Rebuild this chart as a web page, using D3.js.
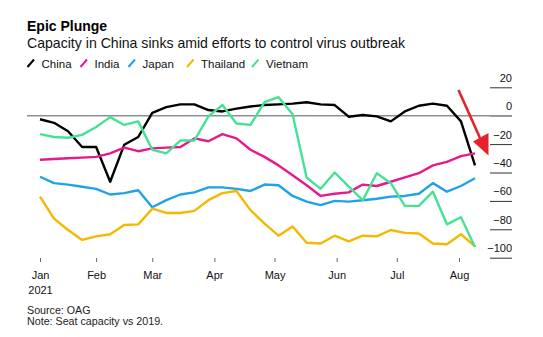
<!DOCTYPE html>
<html>
<head>
<meta charset="utf-8">
<script src="https://cdn.jsdelivr.net/npm/d3@7/dist/d3.min.js"></script>
<style>
  html, body { margin: 0; padding: 0; background: #fff; }
  svg { display: block; font-family: "Liberation Sans", Arial, Helvetica, sans-serif; }
</style>
</head>
<body>
<svg id="chart" width="543" height="337"></svg>
<script>
const dates = ["2021-01-04","2021-01-11","2021-01-18","2021-01-25","2021-02-01","2021-02-08","2021-02-15","2021-02-22",
  "2021-03-01","2021-03-08","2021-03-15","2021-03-22","2021-03-29","2021-04-05","2021-04-12","2021-04-19","2021-04-26",
  "2021-05-03","2021-05-10","2021-05-17","2021-05-24","2021-05-31","2021-06-07","2021-06-14","2021-06-21","2021-06-28",
  "2021-07-05","2021-07-12","2021-07-19","2021-07-26","2021-08-02","2021-08-09"];

const china = [-2.5,-5,-11,-22,-22,-46.5,-20.5,-15,2,6,8,8,4,3,5,6.5,7.5,8,8.5,9.5,8,7.5,-0.7,0.5,-0.5,-4,3,7,8.5,7,-4,-35];
const india = [-31,-30.5,-30,-29.5,-29,-26.5,-22.5,-25,-23,-22.5,-22,-16,-18,-13,-16,-24,-29,-35,-42,-49,-56.5,-55,-54,-48.5,-49.5,-46.5,-43.5,-40.5,-35,-32.5,-28.5,-26.5];
const japan = [-43,-47.5,-48.5,-50,-51.5,-55.5,-54.5,-52.5,-64.5,-59.5,-55.5,-54,-50.5,-50.5,-51.5,-53,-48.5,-49,-56.5,-60.5,-63,-60,-60.5,-59.5,-58.5,-57,-56.5,-55,-47.5,-53.5,-49.5,-44];
const thailand = [-57,-72.5,-80.5,-87.5,-85,-83.5,-77,-76.5,-65.5,-68.5,-68.5,-67,-59.5,-54.5,-53,-66.5,-76,-84.5,-78,-89.5,-90,-84.5,-88.5,-84.5,-85,-80.5,-82.5,-83,-90,-90.5,-83.5,-92];
const vietnam = [-13,-15,-15.5,-13.5,-8,-1,-6.5,-4,-24,-26.5,-17.5,-17.5,-0.5,7.5,-5.5,-6.5,9.5,13,1,-43.5,-51.5,-40,-50,-59.5,-40.5,-47.5,-63.5,-63.5,-53.5,-76.5,-71.5,-92.5];

const seriesNames = ["China","India","Japan","Thailand","Vietnam"];
const seriesColors = ["#000000","#e8198b","#1fa3e6","#f5b800","#45e295"];
const yTicks = [20,0,-20,-40,-60,-80,-100];
const xTickDates = ["2021-01-04","2021-02-01","2021-03-01","2021-04-01","2021-05-01","2021-06-01","2021-07-01","2021-08-01"];
const xTickLabels = ["Jan","Feb","Mar","Apr","May","Jun","Jul","Aug"];

const title = "Epic Plunge";
const subtitle = "Capacity in China sinks amid efforts to control virus outbreak";
const source = "Source: OAG";
const note = "Note: Seat capacity vs 2019.";

const parse = d3.utcParse("%Y-%m-%d");
const D = dates.map(parse);
const allSeries = [china, india, japan, thailand, vietnam];

const svg = d3.select("#chart");

const x = d3.scaleUtc().domain([D[0], D[D.length - 1]]).range([40, 475]);
const y = d3.scaleLinear().domain([-100, 20]).range([257.7, 87.3]);

// Title block
svg.append("text").attr("x", 27).attr("y", 31).attr("font-size", 14).attr("font-weight", "bold").attr("fill", "#000").text(title);
svg.append("text").attr("x", 27).attr("y", 47.5).attr("font-size", 14.1).attr("fill", "#111").text(subtitle);

// Legend
const legendX = [27, 80, 128, 186.5, 251.5];
seriesNames.forEach((name, i) => {
  const g = svg.append("g").attr("transform", `translate(${legendX[i]},0)`);
  g.append("line").attr("x1", 0.5).attr("y1", 67).attr("x2", 7).attr("y2", 59.5)
    .attr("stroke", seriesColors[i]).attr("stroke-width", 2);
  g.append("text").attr("x", 14.5).attr("y", 67.5).attr("font-size", 11.5).attr("fill", "#111").text(name);
});

// Right axis
const yAxis = d3.axisRight(y).tickValues(yTicks).tickSize(0).tickFormat(d3.format("d"));
const ya = svg.append("g").attr("transform", "translate(512,0)").call(yAxis);
ya.select(".domain").remove();
ya.selectAll(".tick text").attr("x", 0).attr("dy", "-0.55em").attr("text-anchor", "end")
  .attr("font-size", 11).attr("font-family", "Liberation Sans, Arial, sans-serif").attr("fill", "#111");
ya.selectAll(".tick").append("line").attr("x1", -22).attr("x2", 0).attr("y1", 0).attr("y2", 0)
  .attr("stroke", d => d === 0 ? "#888" : "#333").attr("stroke-width", 1);

// zero line
svg.append("line").attr("x1", 27).attr("x2", 512).attr("y1", y(0)).attr("y2", y(0))
  .attr("stroke", "#8f8f8f").attr("stroke-width", 1.5);

// X axis
const xAxis = d3.axisBottom(x).tickValues(xTickDates.map(parse)).tickSize(0).tickFormat((d, i) => xTickLabels[i]);
const xa = svg.append("g").attr("transform", "translate(0,258)").call(xAxis);
xa.select(".domain").remove();
xa.selectAll(".tick").append("line").attr("y1", 0).attr("y2", 4).attr("stroke", "#666").attr("stroke-width", 1);
xa.selectAll(".tick text").attr("y", 21).attr("dy", 0).attr("font-size", 11)
  .attr("font-family", "Liberation Sans, Arial, sans-serif").attr("fill", "#111");
xa.selectAll(".tick").filter((d, i) => i === 0).append("text")
  .attr("y", 35.5).attr("text-anchor", "middle").attr("font-size", 11).attr("fill", "#111").text("2021");

// Lines
const line = d3.line().x((d, i) => x(D[i])).y(d => y(d));
allSeries.forEach((s, i) => {
  svg.append("path").datum(s).attr("d", line).attr("fill", "none")
    .attr("stroke", seriesColors[i]).attr("stroke-width", 2.4)
    .attr("stroke-linejoin", "round").attr("stroke-linecap", "butt");
});

// Red arrow annotation
svg.append("line").attr("x1", 458.5).attr("y1", 90).attr("x2", 480).attr("y2", 138)
  .attr("stroke", "#e3222b").attr("stroke-width", 2.6);
svg.append("path").attr("d", "M473,141.5 L488.5,133 L488.5,155.5 Z").attr("fill", "#e3222b");

// Footer
svg.append("text").attr("x", 27).attr("y", 314).attr("font-size", 10.7).attr("fill", "#222").text(source);
svg.append("text").attr("x", 27).attr("y", 324.5).attr("font-size", 10.7).attr("fill", "#222").text(note);
</script>
</body>
</html>
